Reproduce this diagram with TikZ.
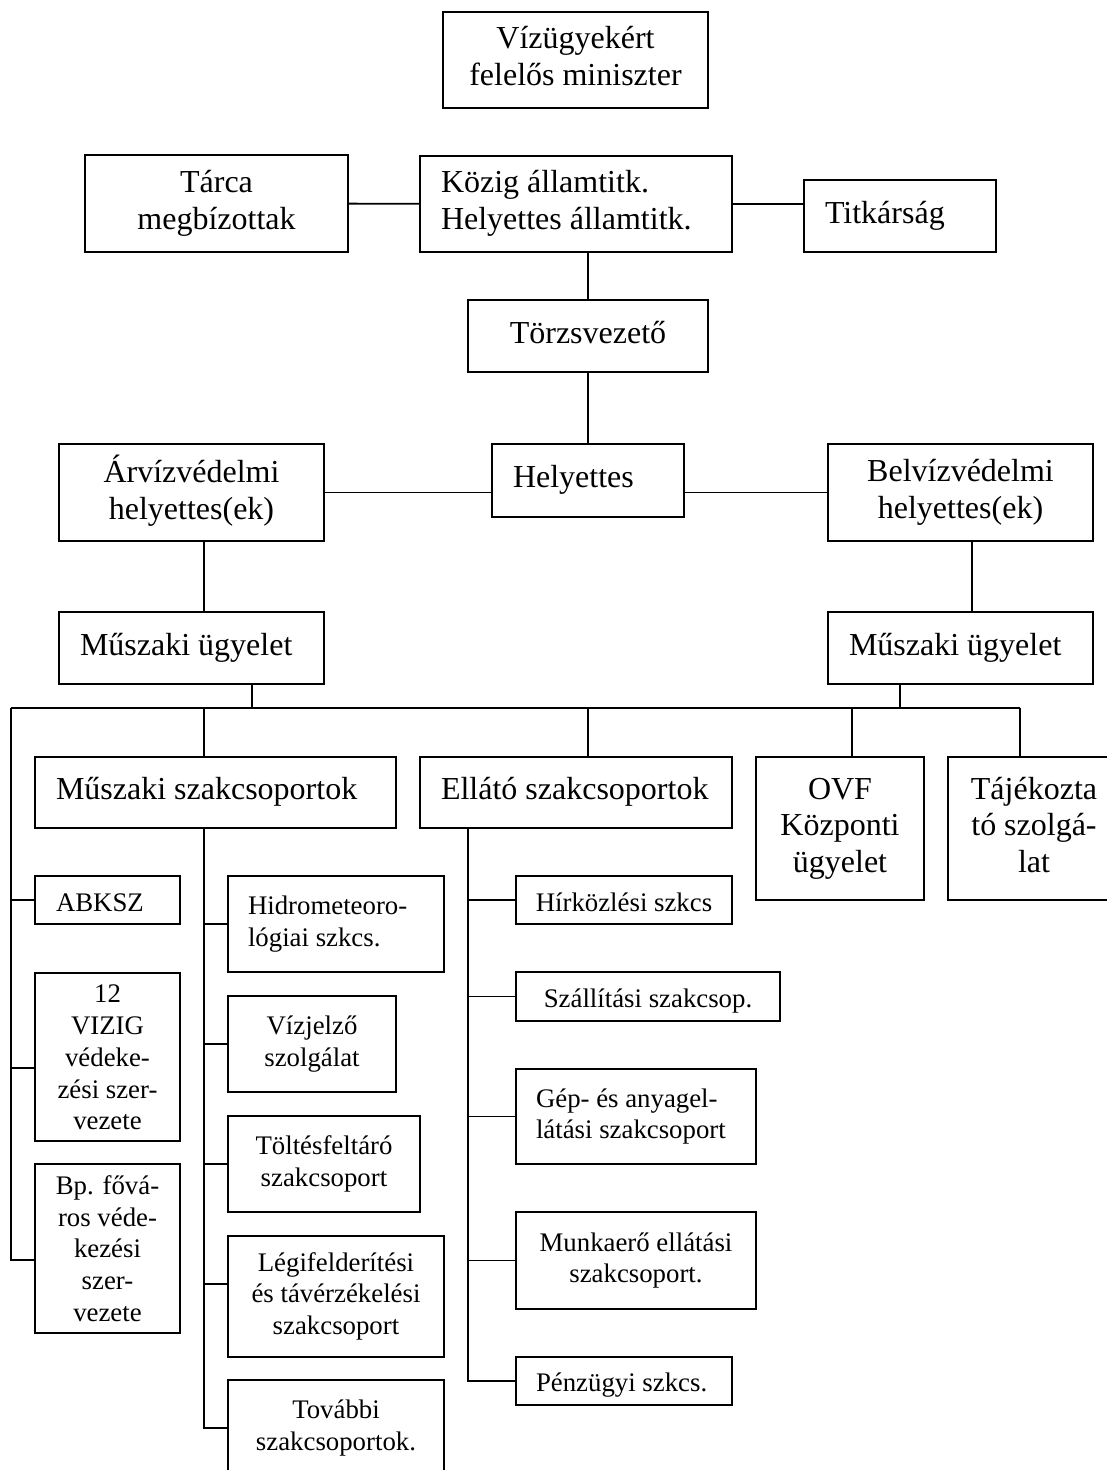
\documentclass[tikz,border=0pt]{standalone}
\usepackage{fontspec}
\setmainfont{Liberation Serif}
\newcommand\fbig{\fontsize{32}{36.8}\selectfont}
\newcommand\fsml{\fontsize{26.8}{31.7}\selectfont}
\def\bxpad{21}
\def\bxdrop{0pt}
% #1 name, #2-#5 corners (px), #6 style, #7 alignment (l or c), #8 text
\newcommand\bx[8]{%
 \pgfmathsetmacro\bxW{#4-#2}\pgfmathsetmacro\bxH{#5-#3}%
 \pgfmathsetmacro\bxT{#4-#2-2*\bxpad}%
 \pgfmathsetmacro\bxX{(#2+#4)/2}\pgfmathsetmacro\bxY{(#3+#5)/2}%
 \node[#6, minimum width=\bxW pt, minimum height=\bxH pt] (#1) at (\bxX,\bxY)
   {\raisebox{-\bxdrop}[\height][\depth]{\makebox[\bxT pt][#7]{\begin{tabular}{@{}#7@{}}#8\end{tabular}}}};}
\tikzset{
 box/.style={draw, rectangle, line width=2.1pt, inner xsep=0pt, inner ysep=0pt},
 ub/.style={box, font=\fbig},
 lb/.style={box, font=\fsml},
 conn/.style={line width=1.9pt},
}
\begin{document}
\begin{tikzpicture}[x=1pt,y=-1pt]
\useasboundingbox (0,0) rectangle (1106,1470);
\fill[white] (0,0) rectangle (1106,1470);
% upper part
\bx{min}{443}{12}{708}{108}{ub}{c}{Vízügyekért\\felelős miniszter}
\bx{tarca}{85}{155}{348}{252}{ub}{c}{Tárca\\megbízottak}
\bx{kozig}{420}{156}{732}{252}{ub}{l}{Közig államtitk.\\Helyettes államtitk.}
\bx{titk}{804}{180}{996}{252}{ub}{l}{Titkárság}
\bx{torzs}{468}{300}{708}{372}{ub}{c}{Törzsvezető}
\bx{hely}{492}{444}{684}{517}{ub}{l}{Helyettes}
\bx{arviz}{59}{444}{324}{541}{ub}{c}{Árvízvédelmi\\helyettes(ek)}
\bx{belviz}{828}{444}{1093}{541}{ub}{c}{Belvízvédelmi\\helyettes(ek)}
\bx{mu1}{59}{612}{324}{684}{ub}{l}{Műszaki ügyelet}
\bx{mu2}{828}{612}{1093}{684}{ub}{l}{Műszaki ügyelet}
\bx{msz}{35}{757}{396}{828}{ub}{l}{Műszaki szakcsoportok}
\bx{ell}{420}{757}{732}{828}{ub}{l}{Ellátó szakcsoportok}
\bx{ovf}{756}{757}{924}{900}{ub}{c}{OVF\\Központi\\ügyelet}
\bx{taj}{948}{757}{1120}{900}{ub}{c}{Tájékozta\\tó szolgá-\\lat}
% lower left
\def\bxdrop{5pt}
\bx{abksz}{35}{876}{180}{924}{lb}{l}{ABKSZ}
\def\bxdrop{3pt}
\bx{vizig}{35}{973}{180}{1141}{lb}{c}{12\\VIZIG\\védeke-\\zési szer-\\vezete}
\bx{bp}{35}{1164}{180}{1333}{lb}{c}{Bp. fővá-\\ros véde-\\kezési\\szer-\\vezete}
\def\bxdrop{0pt}
\def\bxpad{20}
% lower middle
\bx{hid}{228}{876}{444}{972}{lb}{l}{Hidrometeoro-\\lógiai szkcs.}
\bx{vjel}{228}{996}{396}{1092}{lb}{c}{Vízjelző\\szolgálat}
\bx{tolt}{228}{1116}{420}{1212}{lb}{c}{Töltésfeltáró\\szakcsoport}
\bx{legi}{228}{1236}{444}{1357}{lb}{c}{Légifelderítési\\és távérzékelési\\szakcsoport}
\bx{tov}{228}{1380}{444}{1476}{lb}{c}{További\\szakcsoportok.}
% lower right
\def\bxdrop{5pt}
\bx{hir}{516}{876}{732}{924}{lb}{c}{Hírközlési szkcs}
\bx{szall}{516}{972}{780}{1021}{lb}{c}{Szállítási szakcsop.}
\def\bxdrop{0pt}
\bx{gep}{516}{1069}{756}{1164}{lb}{l}{Gép- és anyagel-\\látási szakcsoport}
\bx{munka}{516}{1212}{756}{1309}{lb}{c}{Munkaerő ellátási\\szakcsoport.}
\def\bxdrop{4pt}
\bx{penz}{516}{1357}{732}{1405}{lb}{l}{Pénzügyi szkcs.}
\def\bxdrop{0pt}
% connectors upper
\draw[conn] (tarca) -- (kozig);
\draw[conn] (kozig.east) -- (kozig.east -| titk.west);
\draw[conn] (torzs.north) -- (torzs.north |- kozig.south);
\draw[conn] (torzs) -- (hely);
\draw[conn] (arviz.east) -- (arviz.east -| hely.west);
\draw[conn] (belviz.west) -- (belviz.west -| hely.east);
\draw[conn] ([xshift=12.5pt]arviz.south) -- ([xshift=12.5pt]mu1.north);
\draw[conn] ([xshift=11.5pt]belviz.south) -- ([xshift=11.5pt]mu2.north);
% bus
\coordinate (busL) at (11,708);
\coordinate (busR) at (1020,708);
\draw[conn] (busL) -- (busR);
\coordinate (m1) at ([xshift=60.5pt]mu1.south);
\coordinate (m2) at ([xshift=-60.5pt]mu2.south);
\draw[conn] (m1) -- (m1 |- busL);
\draw[conn] (m2) -- (m2 |- busL);
\coordinate (dm) at ([xshift=-11.5pt]msz.north);
\coordinate (de) at ([xshift=12pt]ell.north);
\coordinate (dov) at ([xshift=12pt]ovf.north);
\coordinate (dtj) at ([xshift=-14pt]taj.north);
\draw[conn] (dm) -- (dm |- busL);
\draw[conn] (de) -- (de |- busL);
\draw[conn] (dov) -- (dov |- busL);
\draw[conn] (dtj) -- (dtj |- busL);
% left trunk
\coordinate (bpc) at ([yshift=-11.5pt]bp.west);
\coordinate (vzc) at ([yshift=-11pt]vizig.west);
\draw[conn] (busL) |- (bpc);
\draw[conn] (busL |- abksz.west) -- (abksz.west);
\draw[conn] (busL |- vzc) -- (vzc);
% middle trunk
\coordinate (mt) at ([xshift=-11.5pt]msz.south);
\coordinate (lgc) at ([yshift=12.5pt]legi.west);
\draw[conn] (mt) |- (tov.west);
\draw[conn] (mt |- hid.west) -- (hid.west);
\draw[conn] (mt |- vjel.west) -- (vjel.west);
\draw[conn] (mt |- tolt.west) -- (tolt.west);
\draw[conn] (mt |- lgc) -- (lgc);
% right trunk
\coordinate (et) at ([xshift=-108pt]ell.south);
\draw[conn] (et) |- (penz.west);
\draw[conn] (et |- hir.west) -- (hir.west);
\draw[conn] (et |- szall.west) -- (szall.west);
\draw[conn] (et |- gep.west) -- (gep.west);
\draw[conn] (et |- munka.west) -- (munka.west);
\end{tikzpicture}
\end{document}
